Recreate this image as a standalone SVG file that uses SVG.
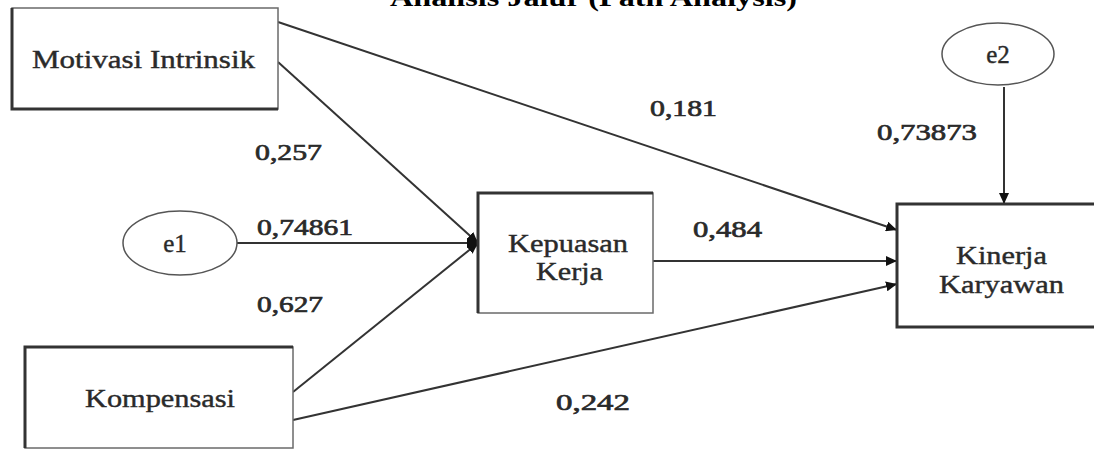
<svg xmlns="http://www.w3.org/2000/svg" width="1094" height="450" viewBox="0 0 1094 450">
<style>
  .t { font-family: "Liberation Serif", "Times New Roman", serif; fill: #2a2a2a; }
  .lbl { font-size: 25px; stroke: #2a2a2a; stroke-width: 0.4; }
  .num { font-size: 24px; stroke: #2a2a2a; stroke-width: 0.7; }
  .title { font-size: 26px; font-weight: bold; fill: #000; }
  .box { fill: #fff; stroke: #6a6a6a; stroke-width: 1.5; }
  .edge { stroke: #333; stroke-width: 3; fill: none; }
  .ell { fill: #fff; stroke: #555; stroke-width: 1.5; }
  .conn line { stroke: #333; stroke-width: 2; }
</style>
<defs>
  <marker id="arr" markerUnits="userSpaceOnUse" markerWidth="12" markerHeight="10" refX="11" refY="5" orient="auto">
    <path d="M0,0 L11,5 L0,10 z" fill="#111"/>
  </marker>
</defs>
<rect width="1094" height="450" fill="#fff"/>
<text class="t title" x="390" y="6" textLength="407" lengthAdjust="spacingAndGlyphs">Analisis Jalur  (Path Analysis)</text>

<g id="connectors" class="conn">
  <line x1="278" y1="22" x2="897" y2="230" marker-end="url(#arr)"/>
  <line x1="278" y1="62" x2="478" y2="243" marker-end="url(#arr)"/>
  <line x1="237" y1="243" x2="478" y2="243" marker-end="url(#arr)"/>
  <line x1="293" y1="392" x2="478" y2="243" marker-end="url(#arr)"/>
  <line x1="653" y1="261" x2="897" y2="261" marker-end="url(#arr)"/>
  <line x1="293" y1="420" x2="897" y2="284" marker-end="url(#arr)"/>
  <line x1="1004" y1="87" x2="1004" y2="204" marker-end="url(#arr)"/>
  <circle cx="473" cy="243" r="5" fill="#111"/>
</g>

<g id="motivasi">
  <rect class="box" x="12" y="8" width="266" height="101"/>
  <path class="edge" d="M12,8 V109 H278" stroke-width="2.5"/>
  <text class="t lbl" x="32" y="68" textLength="223" lengthAdjust="spacingAndGlyphs">Motivasi Intrinsik</text>
</g>

<g id="kompensasi">
  <rect class="box" x="25" y="347" width="268" height="101"/>
  <path class="edge" d="M25,448 V347 H293"/>
  <text class="t lbl" x="85" y="407" textLength="150" lengthAdjust="spacingAndGlyphs">Kompensasi</text>
</g>

<g id="kepuasan">
  <rect class="box" x="478" y="193" width="175" height="120"/>
  <path class="edge" d="M478,313 V193 H653"/>
  <text class="t lbl" x="508" y="252" textLength="120" lengthAdjust="spacingAndGlyphs">Kepuasan</text>
  <text class="t lbl" x="536" y="280" textLength="67" lengthAdjust="spacingAndGlyphs">Kerja</text>
</g>

<g id="kinerja">
  <rect class="box" x="897" y="204" width="230" height="123"/>
  <path class="edge" d="M1100,204 H897 V327 H1100"/>
  <text class="t lbl" x="956" y="264" textLength="91" lengthAdjust="spacingAndGlyphs">Kinerja</text>
  <text class="t lbl" x="939" y="293" textLength="125" lengthAdjust="spacingAndGlyphs">Karyawan</text>
</g>

<g id="e1">
  <ellipse class="ell" cx="180" cy="243" rx="57" ry="32"/>
  <text class="t lbl" x="175" y="252" text-anchor="middle">e1</text>
</g>

<g id="e2">
  <ellipse class="ell" cx="998" cy="54" rx="56" ry="31"/>
  <text class="t lbl" x="998" y="63" text-anchor="middle">e2</text>
</g>

<g id="labels">
  <text class="t num" x="650" y="116" textLength="67" lengthAdjust="spacingAndGlyphs">0,181</text>
  <text class="t num" x="877" y="140" textLength="100" lengthAdjust="spacingAndGlyphs">0,73873</text>
  <text class="t num" x="255" y="160" textLength="67" lengthAdjust="spacingAndGlyphs">0,257</text>
  <text class="t num" x="257" y="235" textLength="96" lengthAdjust="spacingAndGlyphs">0,74861</text>
  <text class="t num" x="693" y="237" textLength="69" lengthAdjust="spacingAndGlyphs">0,484</text>
  <text class="t num" x="257" y="312" textLength="66" lengthAdjust="spacingAndGlyphs">0,627</text>
  <text class="t num" x="556" y="410" textLength="74" lengthAdjust="spacingAndGlyphs">0,242</text>
</g>
</svg>
